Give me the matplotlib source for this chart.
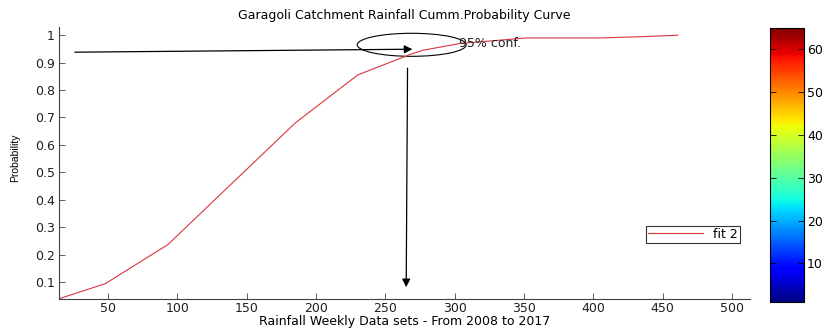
import matplotlib
matplotlib.use('Agg')
import matplotlib.pyplot as plt
import matplotlib.patches as patches
import matplotlib as mpl

plt.rcParams['font.family'] = ['DejaVu Sans']

# empirical cumulative probability of weekly rainfall
rainfall = [14.6, 48, 93, 185, 230, 268, 277, 304, 352, 405, 437, 461]
prob = [0.039, 0.094, 0.236, 0.68, 0.855, 0.93, 0.945, 0.97, 0.99, 0.99, 0.995, 1.0]

xticks = [50, 100, 150, 200, 250, 300, 350, 400, 450, 500]
yticks = [0.1, 0.2, 0.3, 0.4, 0.5, 0.6, 0.7, 0.8, 0.9, 1]
cbar_ticks = [10, 20, 30, 40, 50, 60]

fs = 9

fig = plt.figure(figsize=(8.29, 3.29), dpi=100)
ax = fig.add_axes([0.0712, 0.092, 0.8335, 0.826])
cax = fig.add_axes([0.929, 0.082, 0.041, 0.833])

ax.plot(rainfall, prob, color='#d9363e', lw=0.8, label='fit 2')
ax.set_xlim(14.6, 513)
ax.set_ylim(0.039, 1.03)
ax.set_xticks(xticks)
ax.set_yticks(yticks)
ax.set_yticklabels(['0.1', '0.2', '0.3', '0.4', '0.5', '0.6', '0.7', '0.8', '0.9', '1'])
ax.spines['top'].set_visible(False)
ax.spines['right'].set_visible(False)
for s in ('left', 'bottom'):
    ax.spines[s].set_color('#404040')
    ax.spines[s].set_linewidth(0.8)
ax.tick_params(direction='in', length=4, width=0.6, labelsize=fs, colors='#404040',
               labelcolor='#202020', pad=3)
ax.tick_params(axis='x', pad=2)

ax.set_title('Garagoli Catchment Rainfall Cumm.Probability Curve', fontsize=fs, pad=6)
ax.set_xlabel('Rainfall Weekly Data sets - From 2008 to 2017', fontsize=fs, labelpad=0)
ax.set_ylabel('Probability', fontsize=7.5, family='Liberation Sans')
ax.yaxis.set_label_coords(-0.056, 0.52)

# annotations: 95% confidence
ax.annotate('', xy=(271.5, 0.949), xytext=(24, 0.938),
            arrowprops=dict(arrowstyle='-|>', color='black', lw=0.9, mutation_scale=12))
ax.annotate('', xy=(265, 0.071), xytext=(266, 0.89),
            arrowprops=dict(arrowstyle='-|>', color='black', lw=0.9, mutation_scale=12))
ax.add_patch(patches.Ellipse((269, 0.965), 78.6, 0.084, fill=False, edgecolor='black', lw=0.8))
ax.text(303, 0.968, '95% conf.', fontsize=fs, va='center', ha='left', color='#202020')

leg = ax.legend(loc='upper right', bbox_to_anchor=(0.985, 0.268), borderaxespad=0,
                fancybox=False, fontsize=fs, handlelength=4.4, borderpad=0.15,
                handletextpad=0.8)
leg.get_frame().set_edgecolor('black')
leg.get_frame().set_linewidth(0.8)

norm = mpl.colors.Normalize(vmin=1, vmax=65)
cb = mpl.colorbar.ColorbarBase(cax, cmap=plt.get_cmap('jet'), norm=norm, ticks=cbar_ticks)
cb.outline.set_linewidth(0.8)
cax.tick_params(direction='in', length=4, width=0.6, labelsize=fs, left=True, right=True, pad=2)

fig.savefig('out.png', dpi=100)
